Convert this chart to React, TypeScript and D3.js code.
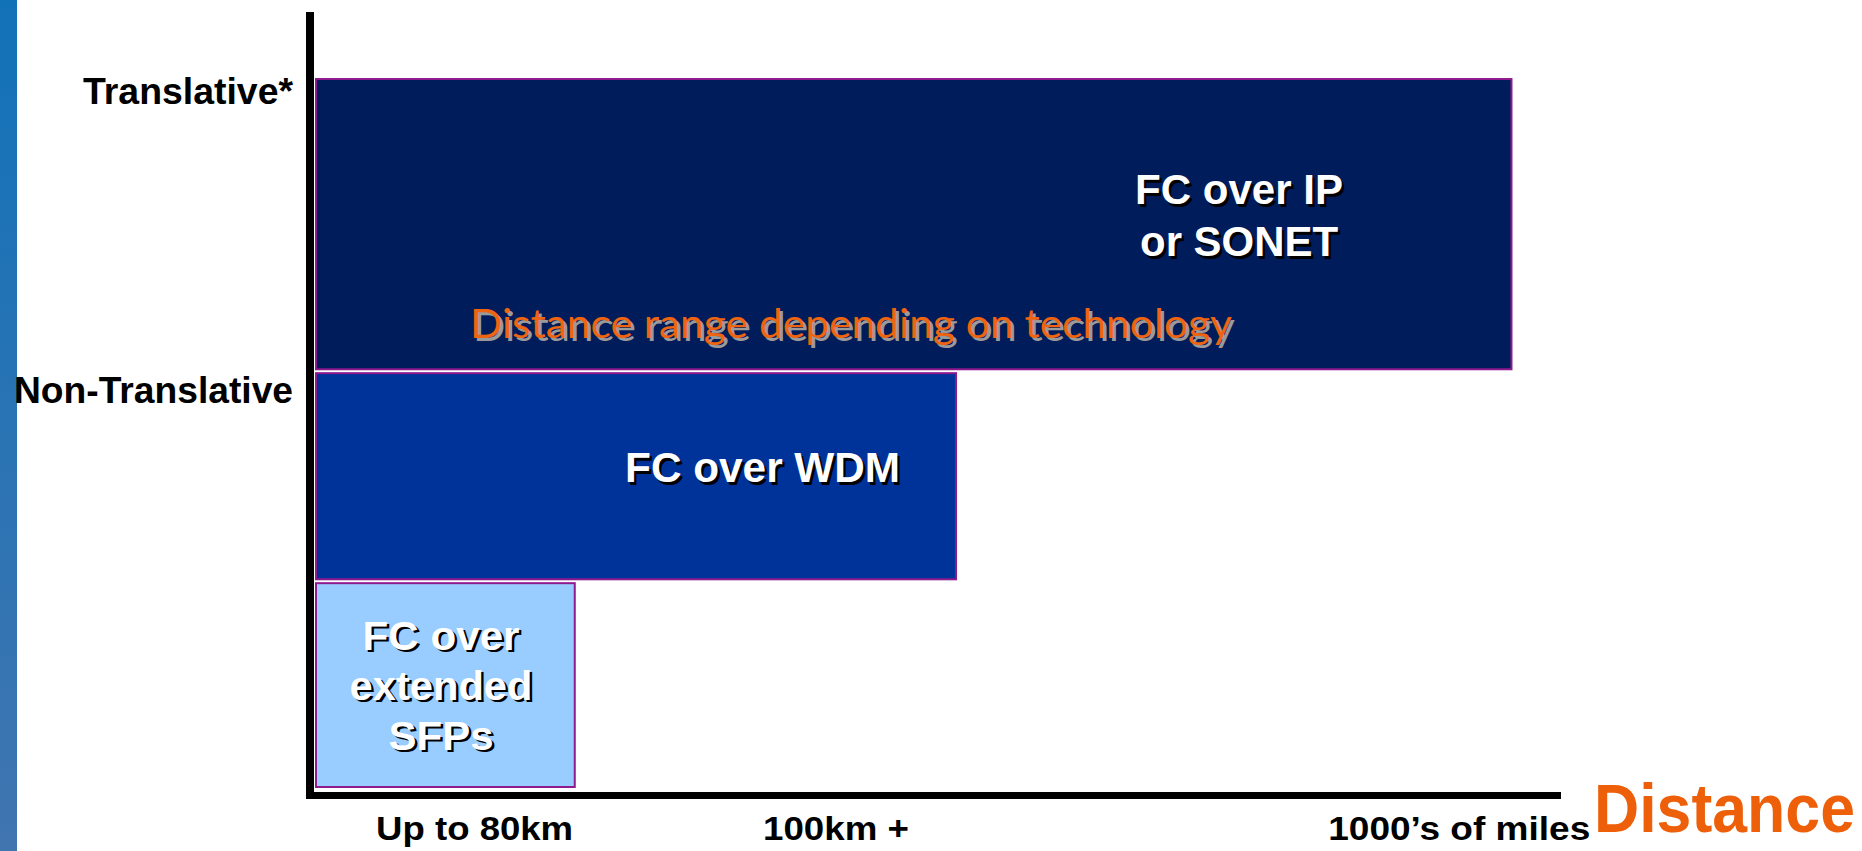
import React from "react";
import * as d3 from "d3";

// ---- Data ----
const technologies = ["FC over extended SFPs", "FC over WDM", "FC over IP or SONET"];
const techLines = [["FC over", "extended", "SFPs"], ["FC over WDM"], ["FC over IP", "or SONET"]];
const distanceEnds = [20.8, 51.45, 96.1];
const bandBottoms = [0.0, 26.8, 53.9];
const bandTops = [26.3, 53.4, 91.35];
const techColors = ["#99CCFF", "#003399", "#001C5A"];
const labelCenters = [10.05, 35.9, 74.2];
const labelBaselines = [17.7, 39.35, 75.2];
const lineWidths = [[157, 183, 105], [275], [208, 198]];

const xTickLabels = ["Up to 80km", "100km +", "1000\u2019s of miles"];
const xTickPositions = [12.75, 41.8, 91.9];
const xTickWidths = [197, 146, 262];

const yTickLabels = ["Translative*", "Non-Translative"];
const yTickPositions = [88.1, 49.5];
const yTickWidths = [210, 279];

const rangeNote = "Distance range depending on technology";
const axisTitle = "Distance";

export default function App() {
  const W = 1862, H = 851;
  const x = d3.scaleLinear().domain([0, 100]).range([316, 1560]);
  const y = d3.scaleLinear().domain([0, 100]).range([787, 12]);
  const font = "'Liberation Sans', Arial, Helvetica, sans-serif";
  const titleScale = 0.9075;

  return (
    <svg width={W} height={H} style={{ position: "absolute", left: 0, top: 0, background: "#fff" }}>
      <defs>
        <linearGradient id="strip" x1="0" y1="0" x2="0" y2="1">
          <stop offset="0" stopColor="#1272B8" />
          <stop offset="1" stopColor="#4075B0" />
        </linearGradient>
      </defs>
      <rect x={0} y={0} width={17} height={H} fill="url(#strip)" />

      {technologies.map((t, i) => (
        <rect
          key={t}
          x={x(0)}
          y={y(bandTops[i])}
          width={x(distanceEnds[i]) - x(0)}
          height={y(bandBottoms[i]) - y(bandTops[i])}
          fill={techColors[i]}
          stroke="#8E1A8E"
          strokeWidth={2}
        />
      ))}

      {/* axes */}
      <line x1={310} y1={12} x2={310} y2={799} stroke="#000" strokeWidth={8} />
      <line x1={306} y1={795.5} x2={1561} y2={795.5} stroke="#000" strokeWidth={7} />

      {/* labels inside bars */}
      {techLines.map((lines, i) =>
        lines.map((ln, j) => {
          const lh = i === 0 ? 50 : 52;
          const cx = x(labelCenters[i]);
          const by = y(labelBaselines[i]) + j * lh;
          const fs = i === 0 ? 40 : 42;
          return (
            <g key={`${i}-${j}`} fontFamily={font} fontWeight="bold" fontSize={fs} textAnchor="middle">
              <text x={cx + 2.5} y={by + 2.5} fill="#000" textLength={lineWidths[i][j]} lengthAdjust="spacingAndGlyphs">{ln}</text>
              <text x={cx} y={by} fill="#fff" textLength={lineWidths[i][j]} lengthAdjust="spacingAndGlyphs">{ln}</text>
            </g>
          );
        })
      )}

      {/* range note */}
      <g fontFamily="Lato, 'Noto Sans', sans-serif" fontSize={41} textAnchor="start">
        <text x={473} y={341} fill="#9A9A9A" textLength={762} lengthAdjust="spacingAndGlyphs">{rangeNote}</text>
        <text x={470} y={338} fill="#EE6410" textLength={762} lengthAdjust="spacingAndGlyphs">{rangeNote}</text>
      </g>

      {/* y tick labels */}
      {yTickLabels.map((l, i) => (
        <text key={l} x={293} y={y(yTickPositions[i])} fontFamily={font} fontWeight="bold" fontSize={36}
          textAnchor="end" fill="#000" textLength={yTickWidths[i]} lengthAdjust="spacingAndGlyphs">{l}</text>
      ))}

      {/* x tick labels */}
      {xTickLabels.map((l, i) => (
        <text key={l} x={x(xTickPositions[i])} y={840} fontFamily={font} fontWeight="bold" fontSize={34}
          textAnchor="middle" fill="#000" textLength={xTickWidths[i]} lengthAdjust="spacingAndGlyphs">{l}</text>
      ))}

      {/* axis title */}
      <g transform={`translate(1594,832) scale(${titleScale},1)`}>
        <text x={0} y={0} fontFamily={font} fontWeight="bold" fontSize={69} fill="#EE5F0A"
          textLength={261 / titleScale} lengthAdjust="spacingAndGlyphs">{axisTitle}</text>
      </g>
    </svg>
  );
}
